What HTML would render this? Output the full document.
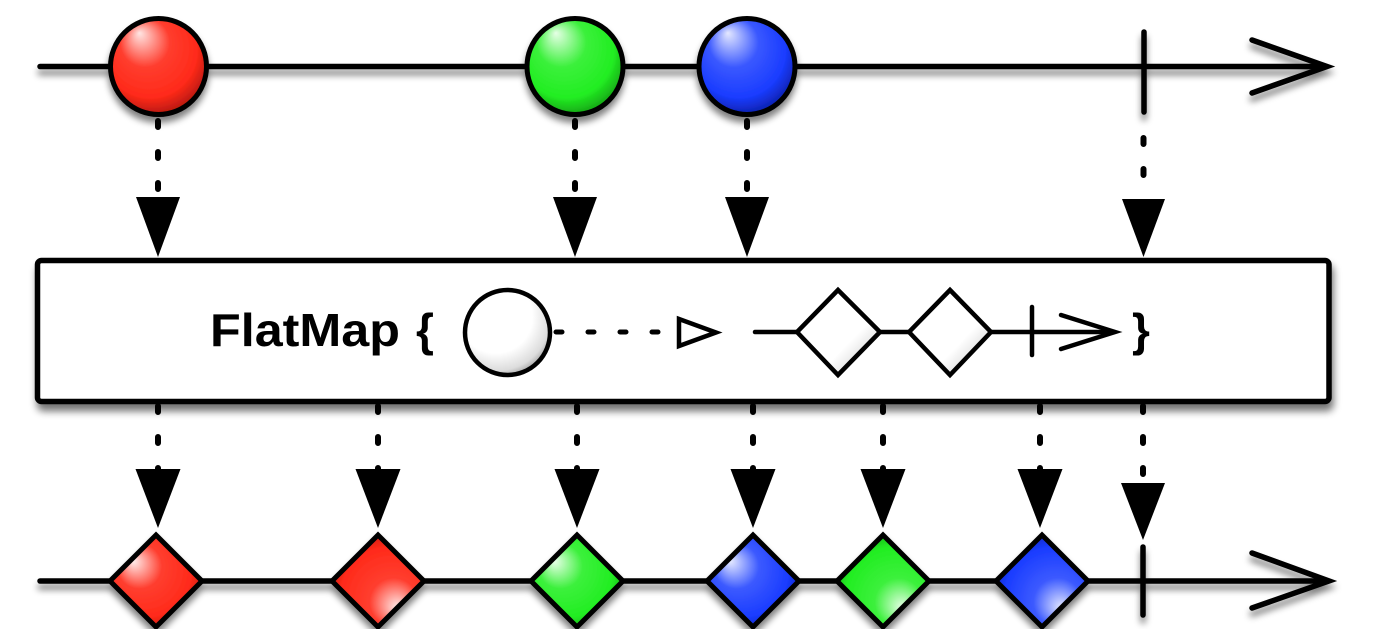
<!DOCTYPE html>
<html>
<head>
<meta charset="utf-8">
<style>
  html,body{margin:0;padding:0;background:#fff;}
  body{width:1400px;height:629px;overflow:hidden;}
  svg{display:block;}
</style>
</head>
<body>
<svg width="1400" height="629" viewBox="0 0 1400 629" xmlns="http://www.w3.org/2000/svg">
  <defs>
    <filter id="sh" filterUnits="userSpaceOnUse" x="0" y="0" width="1400" height="629">
      <feGaussianBlur in="SourceAlpha" stdDeviation="3.5"/>
      <feOffset dy="6" result="o"/>
      <feComponentTransfer in="o" result="s"><feFuncA type="linear" slope="0.5"/></feComponentTransfer>
      <feMerge><feMergeNode in="s"/><feMergeNode in="SourceGraphic"/></feMerge>
    </filter>
    <filter id="shBox" filterUnits="userSpaceOnUse" x="0" y="0" width="1400" height="629">
      <feGaussianBlur in="SourceAlpha" stdDeviation="4"/>
      <feOffset dx="2" dy="7" result="o"/>
      <feComponentTransfer in="o" result="s"><feFuncA type="linear" slope="0.55"/></feComponentTransfer>
      <feMerge><feMergeNode in="s"/><feMergeNode in="SourceGraphic"/></feMerge>
    </filter>

    <radialGradient id="cR" cx="0.45" cy="0.4" r="0.65" fx="0.3" fy="0.15">
      <stop offset="0" stop-color="#ffe6e4"/>
      <stop offset="0.4" stop-color="#ff3d2e"/>
      <stop offset="0.75" stop-color="#ff2a1a"/>
      <stop offset="1" stop-color="#a3140c"/>
    </radialGradient>
    <radialGradient id="cG" cx="0.45" cy="0.4" r="0.65" fx="0.3" fy="0.15">
      <stop offset="0" stop-color="#e6ffe6"/>
      <stop offset="0.4" stop-color="#3bf03b"/>
      <stop offset="0.75" stop-color="#22ee22"/>
      <stop offset="1" stop-color="#139313"/>
    </radialGradient>
    <radialGradient id="cB" cx="0.45" cy="0.4" r="0.65" fx="0.3" fy="0.15">
      <stop offset="0" stop-color="#e4e8ff"/>
      <stop offset="0.4" stop-color="#3a58ff"/>
      <stop offset="0.75" stop-color="#1a3cff"/>
      <stop offset="1" stop-color="#0a1a99"/>
    </radialGradient>
    <radialGradient id="cW" cx="0.4" cy="0.35" r="0.72" fx="0.3" fy="0.25">
      <stop offset="0" stop-color="#ffffff"/>
      <stop offset="0.6" stop-color="#ffffff"/>
      <stop offset="0.85" stop-color="#dcdcdc"/>
      <stop offset="1" stop-color="#8a8a8a"/>
    </radialGradient>

    <radialGradient id="dRA" cx="0.45" cy="0.45" r="0.7" fx="0.25" fy="0.28">
      <stop offset="0" stop-color="#fff0ef"/>
      <stop offset="0.35" stop-color="#ff3e2f"/>
      <stop offset="0.7" stop-color="#ff2a1a"/>
      <stop offset="1" stop-color="#9e130b"/>
    </radialGradient>
    <radialGradient id="dRB" cx="0.58" cy="0.6" r="0.75" fx="0.72" fy="0.8">
      <stop offset="0" stop-color="#fff0ef"/>
      <stop offset="0.35" stop-color="#ff3e2f"/>
      <stop offset="0.7" stop-color="#ff2a1a"/>
      <stop offset="1" stop-color="#a3140c"/>
    </radialGradient>
    <radialGradient id="dGA" cx="0.45" cy="0.45" r="0.7" fx="0.25" fy="0.28">
      <stop offset="0" stop-color="#ecffec"/>
      <stop offset="0.35" stop-color="#3cf03c"/>
      <stop offset="0.7" stop-color="#22ee22"/>
      <stop offset="1" stop-color="#128a12"/>
    </radialGradient>
    <radialGradient id="dGB" cx="0.58" cy="0.6" r="0.75" fx="0.72" fy="0.8">
      <stop offset="0" stop-color="#ecffec"/>
      <stop offset="0.35" stop-color="#3cf03c"/>
      <stop offset="0.7" stop-color="#22ee22"/>
      <stop offset="1" stop-color="#139313"/>
    </radialGradient>
    <radialGradient id="dBA" cx="0.45" cy="0.45" r="0.7" fx="0.25" fy="0.28">
      <stop offset="0" stop-color="#e8ecff"/>
      <stop offset="0.35" stop-color="#3c5aff"/>
      <stop offset="0.7" stop-color="#1a3cff"/>
      <stop offset="1" stop-color="#0a1a99"/>
    </radialGradient>
    <radialGradient id="dBB" cx="0.58" cy="0.6" r="0.75" fx="0.72" fy="0.8">
      <stop offset="0" stop-color="#e8ecff"/>
      <stop offset="0.35" stop-color="#3c5aff"/>
      <stop offset="0.7" stop-color="#1a3cff"/>
      <stop offset="1" stop-color="#0a1a99"/>
    </radialGradient>
    <linearGradient id="dW" x1="0" y1="0" x2="1" y2="1">
      <stop offset="0" stop-color="#ffffff"/>
      <stop offset="0.62" stop-color="#ffffff"/>
      <stop offset="0.85" stop-color="#d6d6d6"/>
      <stop offset="1" stop-color="#8c8c8c"/>
    </linearGradient>
  </defs>

  <!-- TOP TIMELINE -->
  <g filter="url(#sh)" stroke="#000" stroke-linecap="round" stroke-linejoin="round">
    <line x1="40" y1="66.5" x2="1326" y2="66.5" stroke-width="5.5"/>
    <polyline points="1252,40 1327,66.5 1252,93" fill="none" stroke-width="5.5" stroke-linejoin="miter"/>
    <line x1="1144" y1="32" x2="1144" y2="112" stroke-width="5.5"/>
    <circle cx="158.5" cy="66.5" r="48" fill="url(#cR)" stroke-width="5"/>
    <circle cx="575" cy="66.5" r="48" fill="url(#cG)" stroke-width="5"/>
    <circle cx="747" cy="66.5" r="48" fill="url(#cB)" stroke-width="5"/>
  </g>

  <g stroke="#000" stroke-width="6" stroke-linecap="round" fill="none">
    <line x1="158" y1="121" x2="158" y2="200" stroke-dasharray="6 25"/>
    <line x1="575" y1="121" x2="575" y2="200" stroke-dasharray="6 25"/>
    <line x1="747" y1="121" x2="747" y2="200" stroke-dasharray="6 25"/>
    <line x1="1143.5" y1="138" x2="1143.5" y2="200" stroke-dasharray="6 25"/>
  </g>
  <g fill="#000">
    <polygon points="136,197 180,197 158,257"/>
    <polygon points="553,197 597,197 575,257"/>
    <polygon points="725,197 769,197 747,257"/>
    <polygon points="1122,199 1165,199 1143.5,257"/>
  </g>

  <!-- OPERATOR BOX -->
  <rect x="37.5" y="260.5" width="1291.5" height="141" rx="4" ry="4" fill="#fff" stroke="#000" stroke-width="5.5" filter="url(#shBox)"/>

  <text x="210" y="346" font-family="'Liberation Sans', Arial, sans-serif" font-weight="bold" font-size="46" fill="#000" textLength="190" lengthAdjust="spacingAndGlyphs">FlatMap</text>
  <text x="416" y="346" font-family="'Liberation Sans', Arial, sans-serif" font-weight="bold" font-size="46" fill="#000">{</text>

  <circle cx="507.5" cy="332.5" r="42.5" fill="url(#cW)" stroke="#000" stroke-width="4.5"/>
  <line x1="556" y1="332" x2="658" y2="332" stroke="#000" stroke-width="5" stroke-linecap="round" stroke-dasharray="6 26"/>
  <polygon points="679,319 716,332.5 679,346" fill="#fff" stroke="#000" stroke-width="4.5" stroke-linejoin="miter"/>

  <g stroke="#000" stroke-linecap="round">
    <line x1="755" y1="332" x2="1114" y2="332" stroke-width="4.5"/>
    <polygon points="838,290 880,332 838,375 797,332" fill="url(#dW)" stroke-width="4.5" stroke-linejoin="miter"/>
    <polygon points="950,290 991,332 950,375 909,332" fill="url(#dW)" stroke-width="4.5" stroke-linejoin="miter"/>
    <line x1="1032" y1="307" x2="1032" y2="355" stroke-width="4.5"/>
    <polyline points="1061,315 1115,332 1061,349" fill="none" stroke-width="4.5" stroke-linejoin="miter"/>
  </g>
  <text x="1132" y="346" font-family="'Liberation Sans', Arial, sans-serif" font-weight="bold" font-size="46" fill="#000">}</text>

  <g stroke="#000" stroke-width="6" stroke-linecap="round" fill="none">
    <line x1="158" y1="406" x2="158" y2="472" stroke-dasharray="6 25"/>
    <line x1="378" y1="406" x2="378" y2="472" stroke-dasharray="6 25"/>
    <line x1="577" y1="406" x2="577" y2="472" stroke-dasharray="6 25"/>
    <line x1="753" y1="406" x2="753" y2="472" stroke-dasharray="6 25"/>
    <line x1="883" y1="406" x2="883" y2="472" stroke-dasharray="6 25"/>
    <line x1="1040" y1="406" x2="1040" y2="472" stroke-dasharray="6 25"/>
    <line x1="1143" y1="406" x2="1143" y2="480" stroke-dasharray="6 25"/>
  </g>
  <g fill="#000">
    <polygon points="135.5,469 180.5,469 158,528"/>
    <polygon points="355.5,469 400.5,469 378,528"/>
    <polygon points="554.5,469 599.5,469 577,528"/>
    <polygon points="730.5,469 775.5,469 753,528"/>
    <polygon points="860.5,469 905.5,469 883,528"/>
    <polygon points="1017.5,469 1062.5,469 1040,528"/>
    <polygon points="1121,483 1165,483 1143,540"/>
  </g>

  <!-- BOTTOM TIMELINE -->
  <g filter="url(#sh)" stroke="#000" stroke-linecap="round" stroke-linejoin="miter">
    <line x1="40" y1="581" x2="1328" y2="581" stroke-width="5.5"/>
    <polyline points="1252,553 1329,581 1252,608" fill="none" stroke-width="5.5"/>
    <line x1="1143" y1="547" x2="1143" y2="615" stroke-width="5.5"/>
    <polygon points="156,535 202,581 156,627 110,581" fill="url(#dRA)" stroke-width="5"/>
    <polygon points="378,535 424,581 378,627 332,581" fill="url(#dRB)" stroke-width="5"/>
    <polygon points="577,535 623,581 577,627 531,581" fill="url(#dGA)" stroke-width="5"/>
    <polygon points="753,535 799,581 753,627 707,581" fill="url(#dBA)" stroke-width="5"/>
    <polygon points="883,535 929,581 883,627 837,581" fill="url(#dGB)" stroke-width="5"/>
    <polygon points="1042,535 1088,581 1042,627 996,581" fill="url(#dBB)" stroke-width="5"/>
  </g>
</svg>
</body>
</html>
